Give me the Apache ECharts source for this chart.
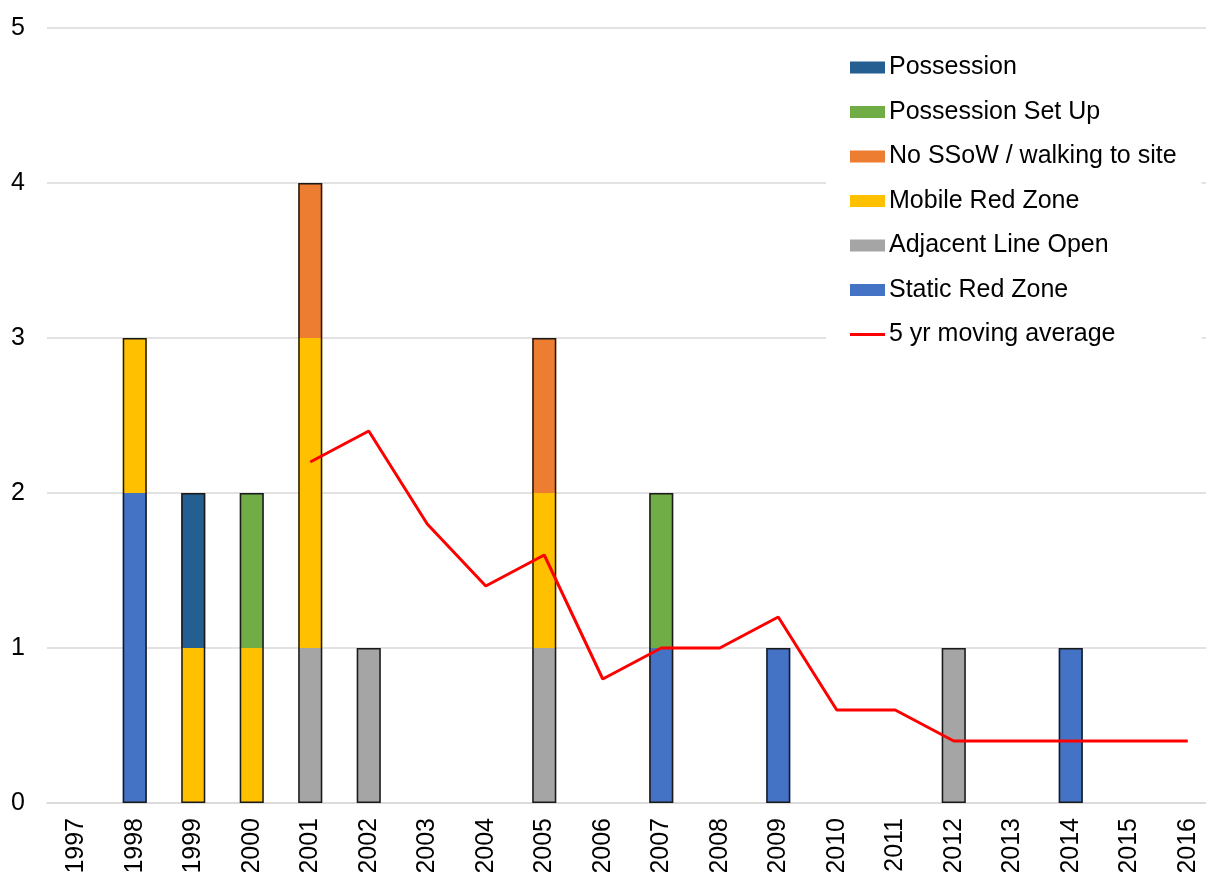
<!DOCTYPE html>
<html>
<head>
<meta charset="utf-8">
<script src="https://cdn.jsdelivr.net/npm/echarts@6/dist/echarts.min.js"></script>
<style>
  html, body { margin: 0; padding: 0; background: #ffffff; }
  #chart { width: 1206px; height: 872px; }
</style>
</head>
<body>
<div id="chart"></div>
<script>
// Years on the category axis
const years = ['1997','1998','1999','2000','2001','2002','2003','2004','2005','2006',
               '2007','2008','2009','2010','2011','2012','2013','2014','2015','2016'];

// Incident counts per year, by category (stacked bottom to top)
const staticRedZone    = [0,2,0,0,0,0,0,0,0,0,1,0,1,0,0,0,0,1,0,0];
const adjacentLineOpen = [0,0,0,0,1,1,0,0,1,0,0,0,0,0,0,1,0,0,0,0];
const mobileRedZone    = [0,1,1,1,2,0,0,0,1,0,0,0,0,0,0,0,0,0,0,0];
const noSSoW           = [0,0,0,0,1,0,0,0,1,0,0,0,0,0,0,0,0,0,0,0];
const possessionSetUp  = [0,0,0,1,0,0,0,0,0,0,1,0,0,0,0,0,0,0,0,0];
const possession       = [0,0,1,0,0,0,0,0,0,0,0,0,0,0,0,0,0,0,0,0];

// 5 yr moving average (first value available from 2001)
const movingAverage = [null,null,null,null,2.2,2.4,1.8,1.4,1.6,0.8,
                       1.0,1.0,1.2,0.6,0.6,0.4,0.4,0.4,0.4,0.4];

// Y axis ticks
const yTicks = [0,1,2,3,4,5];

const stackDefs = [
  { name: 'Static Red Zone',            data: staticRedZone,    color: '#4472C4' },
  { name: 'Adjacent Line Open',         data: adjacentLineOpen, color: '#A5A5A5' },
  { name: 'Mobile Red Zone',            data: mobileRedZone,    color: '#FFC000' },
  { name: 'No SSoW / walking to site',  data: noSSoW,           color: '#ED7D31' },
  { name: 'Possession Set Up',          data: possessionSetUp,  color: '#70AD47' },
  { name: 'Possession',                 data: possession,       color: '#255E91' }
];

// Column totals, used for the outline drawn around each whole stack
const totals = years.map((_, i) => {
  const t = stackDefs.reduce((s, d) => s + d.data[i], 0);
  return t > 0 ? t : null;
});

const FONT = 'Liberation Sans, Arial, sans-serif';
const BAR_W = 24;

const series = stackDefs.map(d => ({
  name: d.name,
  type: 'bar',
  stack: 'incidents',
  barWidth: BAR_W,
  data: d.data.map(v => (v > 0 ? v : null)),
  itemStyle: { color: d.color },
  z: 2
}));

// Outline around each stacked column (no lines between segments)
series.push({
  name: 'outline',
  type: 'bar',
  barWidth: BAR_W,
  barGap: '-100%',
  data: totals,
  silent: true,
  itemStyle: { color: 'rgba(0,0,0,0)', borderColor: '#1a1a1a', borderWidth: 1.5 },
  z: 3
});

series.push({
  name: '5 yr moving average',
  type: 'line',
  data: movingAverage,
  symbol: 'none',
  showSymbol: false,
  connectNulls: false,
  lineStyle: { color: '#FF0000', width: 3 },
  itemStyle: { color: '#FF0000' },
  z: 4
});

const legendNames = [
  'Possession',
  'Possession Set Up',
  'No SSoW / walking to site',
  'Mobile Red Zone',
  'Adjacent Line Open',
  'Static Red Zone'
];

const chart = echarts.init(document.getElementById('chart'), null, { renderer: 'canvas' });

chart.setOption({
  animation: false,
  backgroundColor: '#ffffff',
  grid: {
    left: 47, top: 28, width: 1170, height: 775,
    containLabel: false,
    outerBoundsMode: 'none'
  },
  legend: {
    orient: 'vertical',
    left: 826,
    top: 43,
    padding: [12, 25, 14, 24],
    backgroundColor: '#ffffff',
    itemWidth: 35,
    itemHeight: 12,
    itemGap: 19.5,
    symbolKeepAspect: true,
    data: legendNames.map(n => ({ name: n, icon: 'rect' })).concat([
      {
        name: '5 yr moving average',
        icon: 'path://M0,0L38,0L38,3L0,3Z',
        itemStyle: { color: '#FF0000' }
      }
    ]),
    textStyle: { fontFamily: FONT, fontSize: 25, color: '#000000', padding: [0, 0, 0, -1] },
    z: 10
  },
  xAxis: {
    type: 'category',
    data: years,
    axisLine: { show: true, lineStyle: { color: '#D9D9D9', width: 1.5 } },
    axisTick: { show: false },
    axisLabel: {
      rotate: 90,
      interval: 0,
      margin: 15,
      fontFamily: FONT,
      fontSize: 25,
      color: '#000000'
    }
  },
  yAxis: {
    type: 'value',
    min: yTicks[0],
    max: yTicks[yTicks.length - 1],
    interval: 1,
    axisLine: { show: false },
    axisTick: { show: false },
    splitLine: { lineStyle: { color: '#D9D9D9', width: 1.5 } },
    axisLabel: {
      margin: 22,
      fontFamily: FONT,
      fontSize: 25,
      color: '#000000'
    }
  },
  series: series
});
</script>
</body>
</html>
